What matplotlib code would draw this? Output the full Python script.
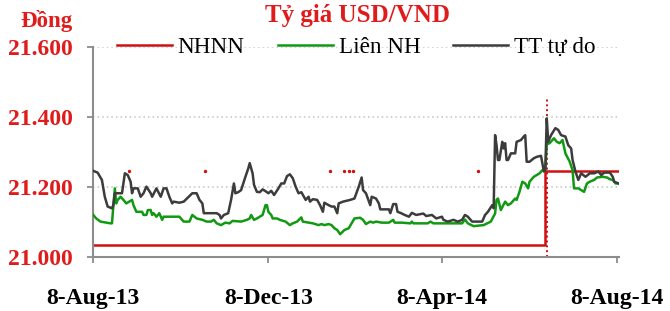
import matplotlib
matplotlib.use("Agg")
import matplotlib.pyplot as plt
import pandas as pd

# all days are counted from 8-Aug-13
start = pd.Timestamp("2013-08-08")

nhnn_days = [0, 315, 366]
nhnn_vals = [21036, 21246, 21246]

lien_days = [0, 2, 5, 12, 13, 15, 16, 17, 19, 21, 23, 25, 27, 28, 30, 34, 35, 37, 38, 40,
             41, 42, 44, 46, 48, 49, 51, 60, 61, 63, 67, 69, 72, 76, 79, 82, 84, 86, 89, 92,
             95, 97, 103, 107, 109, 110, 112, 114, 116, 118, 120, 121, 122, 124, 125, 128, 130, 134, 137, 139,
             142, 145, 146, 150, 153, 157, 159, 161, 164, 166, 168, 170, 172, 175, 178, 180, 182, 186, 188, 190,
             193, 195, 197, 201, 206, 209, 210, 215, 221, 222, 223, 233, 235, 237, 257, 259, 261, 265, 272, 277,
             280, 281, 282, 284, 287, 289, 291, 294, 295, 297, 299, 301, 303, 304, 307, 309, 311, 313, 315, 316,
             318, 321, 323, 325, 327, 329, 332, 334, 335, 338, 340, 342, 344, 346, 349, 351, 355, 358, 360, 362,
             364, 366]
lien_vals = [21121, 21111, 21102, 21097, 21097, 21197, 21154, 21164, 21173, 21164, 21154, 21159, 21164, 21149, 21130, 21130, 21121, 21121, 21135, 21135,
             21121, 21126, 21116, 21126, 21107, 21116, 21116, 21116, 21111, 21102, 21102, 21121, 21111, 21107, 21102, 21102, 21107, 21097, 21092, 21099,
             21097, 21104, 21102, 21107, 21111, 21121, 21107, 21111, 21116, 21121, 21149, 21149, 21130, 21121, 21111, 21111, 21107, 21102, 21092, 21097,
             21102, 21114, 21102, 21099, 21097, 21092, 21095, 21092, 21095, 21092, 21083, 21078, 21066, 21078, 21083, 21097, 21111, 21113, 21107, 21095,
             21102, 21099, 21102, 21099, 21099, 21107, 21099, 21099, 21097, 21102, 21097, 21097, 21102, 21097, 21097, 21108, 21097, 21089, 21092, 21102,
             21125, 21164, 21168, 21135, 21159, 21149, 21154, 21168, 21164, 21187, 21216, 21211, 21197, 21216, 21230, 21235, 21240, 21249, 21250, 21323,
             21326, 21340, 21330, 21326, 21335, 21297, 21273, 21249, 21197, 21197, 21192, 21187, 21211, 21216, 21221, 21228, 21230, 21228, 21223, 21221,
             21211, 21211]

tt_days = [0, 3, 6, 8, 10, 13, 14, 15, 20, 22, 24, 26, 27, 28, 31, 33, 35, 37, 40, 41,
           44, 47, 49, 51, 53, 55, 56, 60, 63, 69, 72, 74, 76, 77, 86, 88, 89, 91, 94, 96,
           98, 99, 101, 103, 106, 108, 109, 111, 112, 114, 116, 118, 120, 122, 124, 126, 129, 131, 133, 135,
           137, 139, 141, 143, 145, 148, 150, 151, 153, 156, 158, 160, 161, 164, 166, 168, 170, 171, 174, 177,
           179, 182, 185, 187, 188, 190, 193, 194, 197, 199, 200, 206, 207, 209, 211, 212, 214, 217, 220, 222,
           225, 230, 232, 236, 239, 243, 244, 247, 251, 254, 257, 259, 261, 264, 271, 273, 275, 278, 279, 280,
           281, 282, 283, 285, 286, 287, 288, 289, 290, 291, 294, 295, 298, 300, 301, 302, 304, 307, 309, 312,
           314, 315, 316, 317, 319, 322, 324, 326, 329, 331, 333, 334, 336, 338, 340, 343, 346, 349, 352, 354,
           356, 360, 362, 363, 366]
tt_vals = [21247, 21242, 21221, 21173, 21145, 21140, 21150, 21183, 21183, 21240, 21235, 21216, 21183, 21197, 21197, 21173, 21183, 21202, 21183, 21173,
           21197, 21173, 21197, 21197, 21173, 21154, 21159, 21156, 21159, 21183, 21183, 21164, 21154, 21126, 21126, 21121, 21111, 21121, 21126, 21164,
           21211, 21183, 21186, 21192, 21230, 21254, 21269, 21240, 21207, 21187, 21186, 21194, 21189, 21183, 21190, 21178, 21197, 21211, 21211, 21232,
           21237, 21226, 21202, 21183, 21186, 21164, 21173, 21159, 21166, 21164, 21149, 21130, 21156, 21149, 21145, 21145, 21126, 21154, 21159, 21162,
           21164, 21168, 21202, 21228, 21192, 21183, 21149, 21173, 21168, 21154, 21137, 21137, 21126, 21152, 21152, 21130, 21127, 21121, 21116, 21127,
           21121, 21125, 21118, 21121, 21111, 21116, 21107, 21102, 21107, 21102, 21107, 21121, 21116, 21102, 21102, 21121, 21130, 21149, 21140, 21349,
           21321, 21278, 21278, 21330, 21311, 21326, 21278, 21278, 21287, 21297, 21297, 21330, 21335, 21345, 21349, 21273, 21273, 21283, 21287, 21290,
           21245, 21250, 21397, 21330, 21349, 21369, 21364, 21349, 21345, 21320, 21311, 21278, 21245, 21221, 21240, 21230, 21240, 21240, 21245, 21235,
           21242, 21242, 21230, 21216, 21211]

# stray red points on the NHNN level and the dotted marker at the June 2014 change
dot_days = [25, 78, 165, 175, 178, 181, 268]
dot_val = 21246
mark_day = 316
mark_top = 21455

x_tick_dates = ["2013-08-08", "2013-12-08", "2014-04-08", "2014-08-08"]
x_tick_labels = ["8-Aug-13", "8-Dec-13", "8-Apr-14", "8-Aug-14"]
y_ticks = [21000, 21200, 21400, 21600]
y_tick_labels = ["21.000", "21.200", "21.400", "21.600"]


def to_dates(days):
    return start + pd.to_timedelta(days, unit="D")


RED = "#d01010"
TXT_RED = "#e01b1b"
GREEN = "#119a11"
GRAY = "#3c3c3c"
AXIS = "#8c8c8c"
SERIF = ["Liberation Serif", "DejaVu Serif"]

fig = plt.figure(figsize=(6.7, 3.11), dpi=100)
ax = fig.add_axes([93.3 / 670, 1 - 257.3 / 311, 525.2 / 670, 210 / 311])

ax.plot(to_dates([mark_day, mark_day]), [21000, mark_top], color=RED, lw=1.4, ls=(0, (1, 1.5)), zorder=1)
ax.scatter(to_dates(dot_days), [dot_val] * len(dot_days), s=2, color=RED, zorder=1)
ax.plot(to_dates(nhnn_days), nhnn_vals, color=RED, lw=1.8, drawstyle="steps-post", label="NHNN", zorder=2)
ax.plot(to_dates(lien_days), lien_vals, color=GREEN, lw=1.8, label="Liên NH", zorder=3)
ax.plot(to_dates(tt_days), tt_vals, color=GRAY, lw=1.8, label="TT tự do", zorder=4)

ax.set_xlim(start, start + pd.Timedelta(days=366))
ax.set_ylim(21000, 21600)

for y in y_ticks[1:]:
    ax.axhline(y, color="#c4c4c4", lw=1.1, ls=(0, (1, 2)), zorder=0)

for side in ["top", "right"]:
    ax.spines[side].set_visible(False)
for side in ["left", "bottom"]:
    ax.spines[side].set_color(AXIS)
    ax.spines[side].set_linewidth(1.5)

ax.set_yticks(y_ticks)
ax.set_yticklabels(y_tick_labels, color=TXT_RED, fontsize=17, fontweight="bold", family=SERIF)
ax.set_xticks(pd.to_datetime(x_tick_dates))
ax.set_xticklabels(x_tick_labels, color="black", fontsize=17, fontweight="bold", family=SERIF)
ax.tick_params(axis="y", length=4.3, width=1.3, color=AXIS, pad=10.5)
ax.tick_params(axis="x", length=4.3, width=1.3, color=AXIS, pad=18)

fig.text(20 / 670, 1 - 27 / 311, "Đồng", ha="left", va="baseline", color=TXT_RED,
         fontsize=16.5, fontweight="bold", family=SERIF)
fig.text(357.5 / 670, 1 - 21.7 / 311, "Tỷ giá USD/VND", ha="center", va="baseline", color=TXT_RED,
         fontsize=18, fontweight="bold", family=SERIF)

fig.legend(loc="center left", bbox_to_anchor=(116.7 / 670, 1 - 47.3 / 311), ncol=3, frameon=False,
           borderpad=0, borderaxespad=0, handlelength=2.37, handletextpad=0.26, columnspacing=1.42,
           prop={"family": SERIF, "size": 16.7})

fig.savefig("out.png", dpi=100)
